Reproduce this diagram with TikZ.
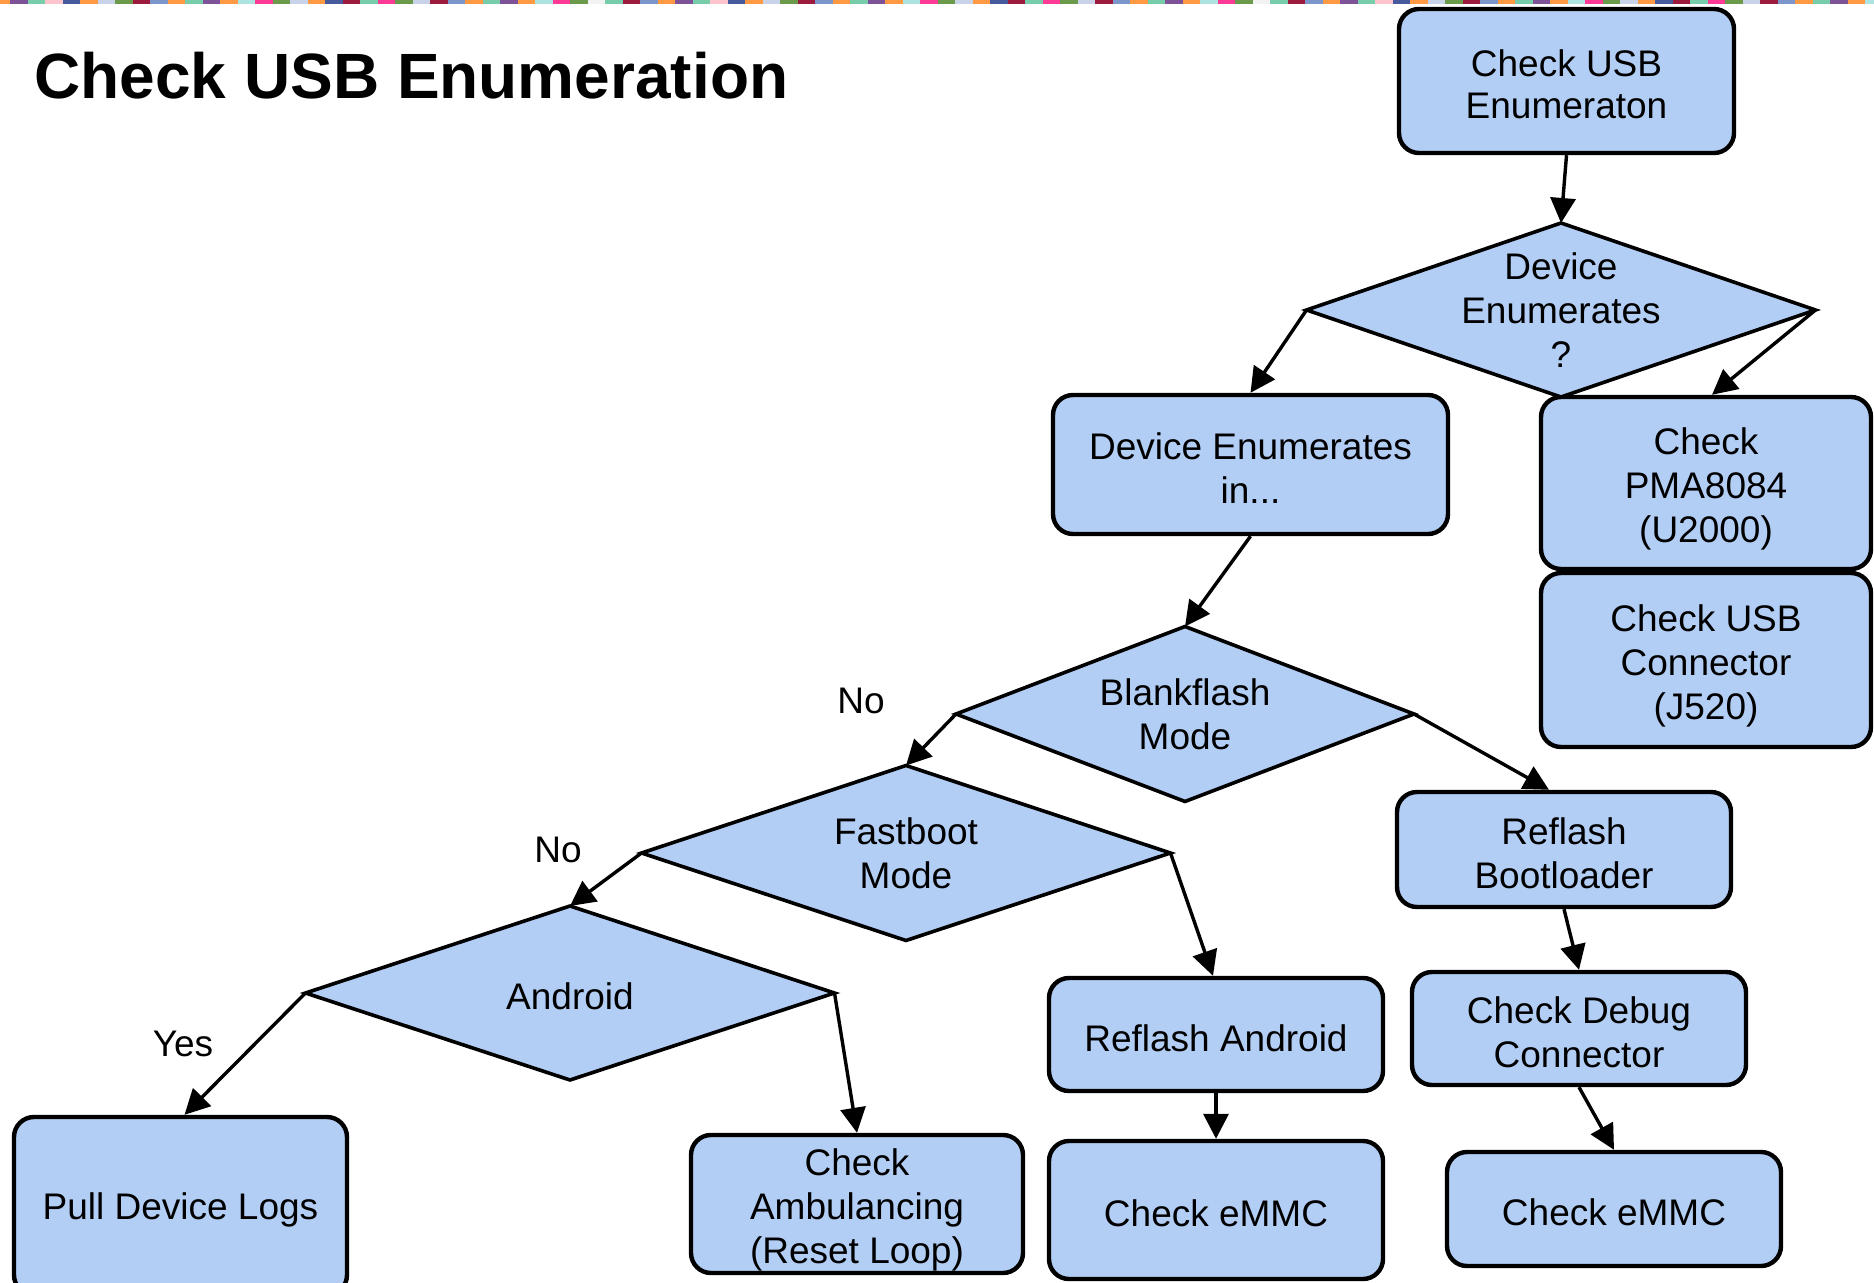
\documentclass[tikz,border=0pt]{standalone}
\usepackage{fontspec}
\setmainfont{Liberation Sans}
\usetikzlibrary{arrows.meta,shapes.geometric}

\definecolor{boxblue}{HTML}{B3CEF5}
% palette of the decorative top strip
\definecolor{sOrange}{HTML}{FF9944}
\definecolor{sPurple}{HTML}{7E5299}
\definecolor{sTeal}{HTML}{77CCAA}
\definecolor{sPink}{HTML}{FFC4CC}
\definecolor{sNavy}{HTML}{475A9E}
\definecolor{sGrey}{HTML}{C8D2E8}
\definecolor{sGreen}{HTML}{6B9A4B}
\definecolor{sCrimson}{HTML}{9C1A3C}
\definecolor{sBlue}{HTML}{7A96CA}
\definecolor{sCyan}{HTML}{ADE3E0}
\definecolor{sMagenta}{HTML}{FF3A96}
\definecolor{sWhite}{HTML}{F2F2F2}

\newcommand{\flowfont}{\fontsize{18.5}{22}\selectfont}
\newcommand{\tightflowfont}{\fontsize{18.5}{21}\selectfont}
\newcommand{\headfont}{\fontsize{32}{38}\selectfont\bfseries}
% taller first line, so the text block sits a little lower in its shape
\newcommand{\firstlinestrut}{\rule{0pt}{17pt}}
\newcommand{\firstlinestrutdeep}{\rule{0pt}{19pt}}

\tikzset{
  box/.style={draw=black, line width=2.2pt, fill=boxblue, rounded corners=10pt,
    align=center, font=\flowfont, inner sep=0pt,
    execute at begin node=\firstlinestrut},
  decision/.style={draw=black, shape=diamond, line width=1.8pt, fill=boxblue,
    inner sep=0pt, outer sep=0pt},
  dtext/.style={font=\flowfont, align=center, inner sep=0pt,
    execute at begin node=\firstlinestrut},
  flow/.style={-{Triangle[length=12.5pt,width=12.5pt]}, line width=1.7pt},
  answer/.style={font=\flowfont, inner sep=0pt}
}

\begin{document}
\begin{tikzpicture}[x=0.5pt,y=-0.5pt]
  % page area
  \fill[white] (0,0) rectangle (1874,1283);
  \useasboundingbox (0,0) rectangle (1874,1283);

  % multicoloured strip along the top edge
  \foreach \i in {-1,...,106}{
    \pgfmathparse{{"sPurple","sTeal","sPink","sNavy","sOrange","sGrey","sGreen","sCrimson","sBlue","sOrange","sTeal","sPurple","sOrange","sCyan","sMagenta","sGreen","sGrey","sOrange","sNavy","sCrimson","sTeal","sMagenta","sGreen","sGrey","sCrimson","sBlue","sOrange","sTeal","sPurple","sOrange","sCyan","sMagenta","sGreen","sWhite","sTeal","sCrimson","sBlue","sOrange"}[mod(\i+38,38)]}
    \edef\stripcol{\pgfmathresult}
    \fill[\stripcol] ({10+17.5*\i},0) rectangle ({10+17.5*(\i+1)},4.5);
  }

  % heading
  \node[anchor=base west, font=\headfont, inner sep=0pt] (title) at (34,99) {Check USB Enumeration};

  % process boxes
  \node[box, font=\tightflowfont, minimum width=167.5pt, minimum height=72pt] (start) at (1566.5,81) {\firstlinestrut Check USB\\Enumeraton};
  \node[box, minimum width=197.5pt, minimum height=69.5pt] (devin) at (1250.5,464.5) {\firstlinestrut Device Enumerates\\in...};
  \node[box, minimum width=165pt, minimum height=86pt] (pma) at (1706,483) {\firstlinestrutdeep Check\\PMA8084\\(U2000)};
  \node[box, minimum width=165pt, minimum height=87pt] (usbc) at (1706,660) {\firstlinestrutdeep Check USB\\Connector\\(J520)};
  \node[box, minimum width=167pt, minimum height=57.5pt] (rbl) at (1564,849.5) {\firstlinestrut Reflash\\Bootloader};
  \node[box, minimum width=167pt, minimum height=56.5pt] (dbg) at (1579,1028.5) {\firstlinestrut Check Debug\\Connector};
  \node[box, minimum width=167pt, minimum height=57pt] (emmcb) at (1614,1209) {Check eMMC};
  \node[box, minimum width=167pt, minimum height=56.5pt] (ra) at (1216,1034.5) {Reflash Android};
  \node[box, minimum width=167pt, minimum height=69pt] (emmca) at (1216,1210) {Check eMMC};
  \node[box, minimum width=166pt, minimum height=69pt] (amb) at (857,1204) {\firstlinestrutdeep Check\\Ambulancing\\(Reset Loop)};
  \node[box, minimum width=166.5pt, minimum height=89pt] (logs) at (180.5,1206) {Pull Device Logs};

  % decisions
  \node[decision, minimum width=254.5pt, minimum height=87pt] (enum) at (1561,310) {};
  \node[dtext] at (enum.center) {Device\\Enumerates\\?};
  \node[decision, minimum width=229pt, minimum height=87.5pt] (blank) at (1185,714) {};
  \node[dtext] at (blank.center) {Blankflash\\Mode};
  \node[decision, minimum width=264.5pt, minimum height=87.5pt] (fast) at (906,853) {};
  \node[dtext] at (fast.center) {Fastboot\\Mode};
  \node[decision, minimum width=264.5pt, minimum height=87pt] (andr) at (570,993) {};
  \node[dtext] at (andr.center) {Android};

  % branch labels
  \node[answer] (noA) at (861,701) {No};
  \node[answer] (noB) at (558,850) {No};
  \node[answer] (yes) at (183,1044) {Yes};

  % connectors
  \draw[flow] (start.south) -- (enum.north);
  \draw[flow] (enum.west) -- (devin.north);
  \draw[flow] (enum.east) -- ([xshift=3pt]pma.north);
  \draw[flow] (devin.south) -- (blank.north);
  \draw[flow] (blank.west) -- (fast.north);
  \draw[flow] (blank.east) -- ([xshift=-7.5pt]rbl.north);
  \draw[flow] (fast.west) -- (andr.north);
  \draw[flow] (fast.east) -- ([xshift=-1.5pt]ra.north);
  \draw[flow] (andr.west) -- ([xshift=2pt]logs.north);
  \draw[flow] (andr.east) -- (amb.north);
  \draw[flow] (ra.south) -- (emmca.north);
  \draw[flow] (rbl.south) -- (dbg.north);
  \draw[flow] (dbg.south) -- (emmcb.north);
\end{tikzpicture}
\end{document}
